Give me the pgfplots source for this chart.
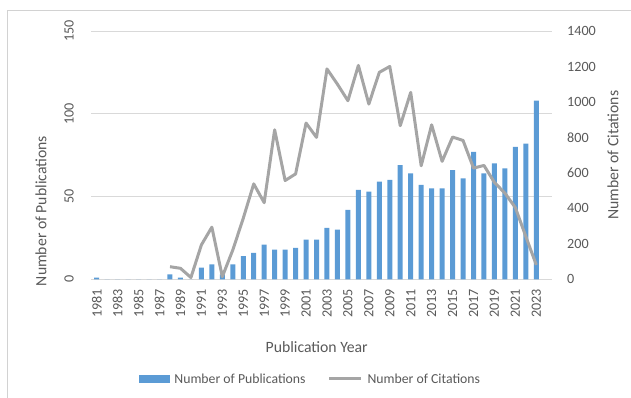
\documentclass[border=0pt]{standalone}
\usepackage{pgfplots}
\pgfplotsset{compat=1.18}
\usepackage{fontspec}
\setmainfont{Carlito}
\definecolor{barblue}{RGB}{91,155,213}
\definecolor{linegray}{RGB}{165,165,165}
\definecolor{gridgray}{RGB}{217,217,217}
\definecolor{txtgray}{RGB}{89,89,89}
\definecolor{bordergray}{RGB}{210,210,210}
\newcommand{\cfont}{\fontsize{14.2}{16}\selectfont}
\newcommand{\tfont}{\fontsize{15.8}{18}\selectfont}
\begin{document}
\begin{tikzpicture}
\pgfplotsset{
  base/.style={
    scale only axis, width=460.5bp, height=248.3bp,
    at={(0,0)}, anchor=south west,
    xmin=-0.5, xmax=43.5, ymin=0,
    /pgf/number format/assume math mode=true,
    /pgf/number format/1000 sep={},
    tick label style={font=\cfont, text=txtgray},
    label style={font=\tfont, text=txtgray},
    major tick length=0pt,
    axis line style={draw=none},
  }
}
\begin{axis}[base, ymax=150, ytick={0,50,100,150},
  ymajorgrids, grid style={gridgray, line width=0.9bp},
  xtick={0,2,...,42},
  xticklabels={1981,1983,1985,1987,1989,1991,1993,1995,1997,1999,2001,2003,2005,2007,2009,2011,2013,2015,2017,2019,2021,2023},
  xticklabel style={rotate=90, anchor=east, inner sep=0pt}, xticklabel shift=9.7bp,
  yticklabel style={rotate=90, anchor=south, inner sep=0pt}, yticklabel shift=17.5bp,
  ylabel={Number of Publications},
  ylabel style={at={(axis description cs:-0.1097,0.275)}, anchor=center},
  xlabel={Publication Year},
  xlabel style={at={(axis description cs:0.489,-0.2715)}, anchor=center},
]
\addplot[ybar, fill=barblue, draw=none, bar width=5bp, bar shift=0pt] coordinates {
(0,1) (1,0) (2,0) (3,0) (4,0) (5,0) (6,0) (7,3) (8,1) (9,0)
(10,7) (11,9) (12,3) (13,9) (14,14) (15,16) (16,21) (17,18) (18,18) (19,19)
(20,24) (21,24) (22,31) (23,30) (24,42) (25,54) (26,53) (27,59) (28,60) (29,69)
(30,64) (31,57) (32,55) (33,55) (34,66) (35,61) (36,77) (37,64) (38,70) (39,67)
(40,80) (41,82) (42,108)
};
\end{axis}
\begin{axis}[base, ymax=1400, ytick={0,200,...,1400},
  hide x axis, yticklabel pos=right,
  yticklabel style={anchor=west, inner sep=0pt}, yticklabel shift=15bp,
  ylabel={Number of Citations},
  ylabel style={at={(axis description cs:1.1325,0.5)}, anchor=center},
  legend style={at={(axis description cs:0.4756,-0.4015)}, anchor=center,
    draw=none, fill=none, legend columns=2, font=\fontsize{13.8}{16}\selectfont, text=txtgray,
    /tikz/every odd column/.append style={column sep=3bp},
    /tikz/every even column/.append style={column sep=20bp}},
]
\addlegendimage{legend image code/.code={\fill[barblue] (0bp,-3.5bp) rectangle (30bp,3.5bp);}}
\addlegendentry{Number of Publications}
\addplot[linegray, line width=3bp, line join=round,
  legend image code/.code={\draw[linegray, line width=3bp] (0bp,0bp) -- (32bp,0bp);}] coordinates {
(7,71) (8,62) (9,10) (10,194) (11,294) (12,15) (13,165) (14,344) (15,538) (16,432)
(17,843) (18,557) (19,594) (20,881) (21,800) (22,1186) (23,1100) (24,1007) (25,1206) (26,988)
(27,1167) (28,1200) (29,866) (30,1054) (31,640) (32,871) (33,665) (34,802) (35,783) (36,627)
(37,642) (38,546) (39,486) (40,404) (41,241) (42,81)
};
\addlegendentry{Number of Citations}
\end{axis}
\draw[bordergray, line width=1bp] (-83.5bp,-130bp) -- (-83.5bp,268.3bp) -- (560bp,268.3bp);
\pgfresetboundingbox
\path[use as bounding box] (-91.5bp,-118.7bp) rectangle (539.5bp,279.3bp);
\end{tikzpicture}
\end{document}
